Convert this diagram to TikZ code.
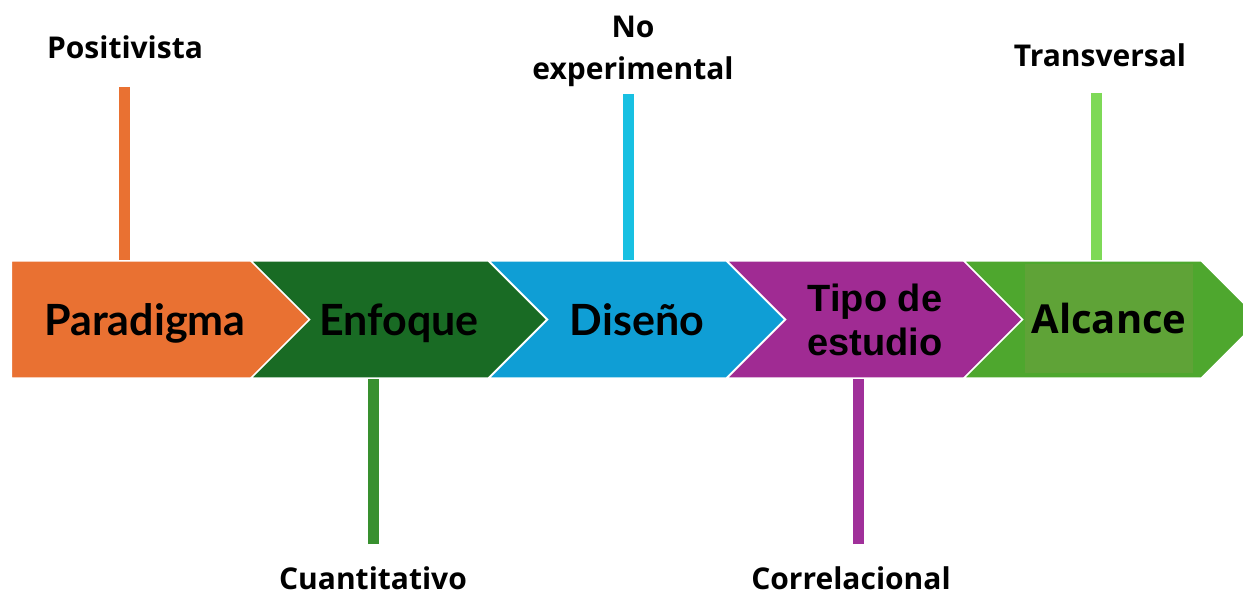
\documentclass[tikz,border=0pt]{standalone}
\usepackage{fontspec}
\setmainfont{Open Sans}
\newfontfamily\latofont{Lato}
\newfontfamily\arialfont{Liberation Sans}
\usetikzlibrary{shapes.symbols}
\definecolor{cOrange}{HTML}{E97132}
\definecolor{cDkGreen}{HTML}{196B24}
\definecolor{cBlue}{HTML}{0F9ED5}
\definecolor{cPurple}{HTML}{A02B93}
\definecolor{cGreen}{HTML}{4EA72E}
\definecolor{cInner}{HTML}{5FA337}
\definecolor{cCyan}{HTML}{18C0E2}
\definecolor{cLime}{HTML}{7ED957}
\definecolor{cMidGreen}{HTML}{38902F}
\definecolor{cPurpleBar}{HTML}{A0309A}
\tikzset{
  chev/.style={signal, signal to=east, signal pointer angle=90, draw=white, line width=1.5pt,
    minimum width=296pt, minimum height=117pt, inner sep=0pt, font=\bfseries\fontsize{40}{44}\selectfont},
  chevin/.style={chev, signal from=west},
  lato/.style={font=\latofont\bfseries\fontsize{43}{46}\selectfont, text depth=0pt},
  tag/.style={font=\bfseries\fontsize{30}{42}\selectfont, align=center, inner sep=0pt},
  bar/.style={line width=11pt}
}
\begin{document}
\begin{tikzpicture}[x=1pt, y=-1pt]
    \useasboundingbox (0, 0) rectangle (1243, 596);
    \clip (0, 0) rectangle (1243, 596);
    % arrow of stages
    \node[chev, lato, fill=cOrange, minimum width=326pt] (par) at (145, 319.5) {Paradigma};
    \node[chevin, lato, fill=cDkGreen] (enf) at (399, 319.5) {Enfoque};
    \node[chevin, lato, fill=cBlue] (dis) at (637, 319.5) {Diseño};
    \node[chevin, fill=cPurple, font=\arialfont\bfseries\fontsize{38}{44}\selectfont, align=center] (tip) at (875, 319.5) {Tipo de\\estudio};
    \node[chevin, fill=cGreen] (alc) at (1112, 319.5) {};
    \node[fill=cInner, minimum width=168pt, minimum height=109pt, inner sep=0pt,
      font=\bfseries\fontsize{40}{44}\selectfont] (alcbox) at (1109, 318.5) {Alcance};
    % labels
    \node[tag, anchor=base] (pos) at (125, 59) {Positivista};
    \node[tag, anchor=base] (noe) at (633, 80) {No\\experimental};
    \node[tag, anchor=base] (tra) at (1100, 67) {Transversal};
    \node[tag, anchor=base] (cua) at (373, 589) {Cuantitativo};
    \node[tag, anchor=base] (cor) at (851, 589) {Correlacional};
    % bars
    \coordinate (b1) at (124, 87);
    \coordinate (b2) at (628, 94);
    \coordinate (b3) at (1096, 93);
    \coordinate (b4) at (373, 544);
    \coordinate (b5) at (858, 544);
    \draw[bar, cOrange] (b1) -- (b1 |- par.north);
    \draw[bar, cCyan] (b2) -- (b2 |- dis.north);
    \draw[bar, cLime] (b3) -- (b3 |- alc.north);
    \draw[bar, cMidGreen] (b4) -- (b4 |- enf.south);
    \draw[bar, cPurpleBar] (b5) -- (b5 |- tip.south);
\end{tikzpicture}
\end{document}
